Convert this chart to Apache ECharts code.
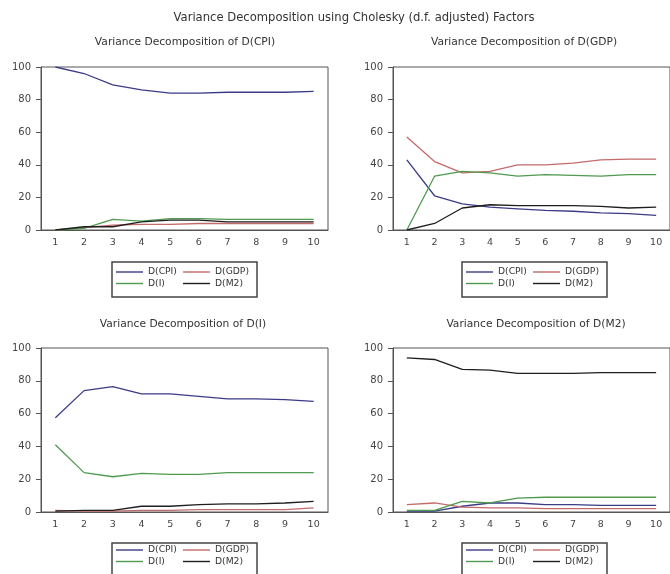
<!DOCTYPE html>
<html>
<head>
<meta charset="utf-8">
<script src="https://cdn.jsdelivr.net/npm/echarts@6/dist/echarts.min.js"></script>
<style>html,body{margin:0;padding:0;background:#fff}#c{width:670px;height:574px}</style>
</head>
<body>
<div id="c"></div>
<script>
// ---- data ----
const categories = ['1','2','3','4','5','6','7','8','9','10'];
const seriesNames = ['D(CPI)','D(GDP)','D(I)','D(M2)'];
const mainTitle = 'Variance Decomposition using Cholesky (d.f. adjusted) Factors';
const panelTitles = ['Variance Decomposition of D(CPI)','Variance Decomposition of D(GDP)','Variance Decomposition of D(I)','Variance Decomposition of D(M2)'];
const yTicks = [0,20,40,60,80,100];

// Panel 1: Variance Decomposition of D(CPI)
const cpi_CPI = [100, 96, 89, 86, 84, 84, 84.5, 84.5, 84.5, 85];
const cpi_GDP = [0, 1.5, 3, 3.5, 3.5, 4, 4, 4, 4, 4];
const cpi_I   = [0, 1, 6.5, 5.5, 7, 7, 6.5, 6.5, 6.5, 6.5];
const cpi_M2  = [0, 2, 2, 5, 6, 6, 5, 5, 5, 5];
// Panel 2: Variance Decomposition of D(GDP)
const gdp_CPI = [43, 21, 16, 14, 13, 12, 11.5, 10.5, 10, 9];
const gdp_GDP = [57, 42, 35, 36, 40, 40, 41, 43, 43.5, 43.5];
const gdp_I   = [0, 33, 36, 35, 33, 34, 33.5, 33, 34, 34];
const gdp_M2  = [0, 4, 13.5, 15.5, 15, 15, 15, 14.5, 13.5, 14];
// Panel 3: Variance Decomposition of D(I)
const i_CPI = [57.5, 74, 76.5, 72, 72, 70.5, 69, 69, 68.5, 67.5];
const i_GDP = [1, 0.5, 0.5, 1, 1, 1.5, 1.5, 1.5, 1.5, 2.5];
const i_I   = [41, 24, 21.5, 23.5, 23, 23, 24, 24, 24, 24];
const i_M2  = [0.5, 1, 1, 3.5, 3.5, 4.5, 5, 5, 5.5, 6.5];
// Panel 4: Variance Decomposition of D(M2)
const m2_CPI = [0.5, 0.5, 3.5, 5.5, 5.5, 4.5, 4.5, 4, 4, 4];
const m2_GDP = [4.5, 5.5, 3, 2.5, 2.5, 2, 2, 2, 2, 2];
const m2_I   = [1, 1, 6.5, 5.5, 8.5, 9, 9, 9, 9, 9];
const m2_M2  = [94, 93, 87, 86.5, 84.5, 84.5, 84.5, 85, 85, 85];

const panelData = [
  [cpi_CPI, cpi_GDP, cpi_I, cpi_M2],
  [gdp_CPI, gdp_GDP, gdp_I, gdp_M2],
  [i_CPI, i_GDP, i_I, i_M2],
  [m2_CPI, m2_GDP, m2_I, m2_M2]
];

// ---- styles / layout ----
const colors = ['#3b3b86', '#c46a6a', '#4f9a4f', '#1e1e1e'];
const grids = [
  {left: 41, top: 67, width: 287, height: 163},
  {left: 393, top: 67, width: 287, height: 163},
  {left: 41, top: 348, width: 287, height: 164},
  {left: 393, top: 348, width: 287, height: 164}
];
const titlePos = [[185, 37], [524, 37], [183, 319], [536, 319]];
const legendPos = [
  {box: [112, 262, 145, 35], col1: 116, col2: 183, top: 267},
  {box: [462, 262, 145, 35], col1: 466, col2: 533, top: 267},
  {box: [112, 543, 145, 40], col1: 116, col2: 183, top: 545},
  {box: [462, 543, 145, 40], col1: 466, col2: 533, top: 545}
];
const font = 'DejaVu Sans';

const option = {
  animation: false,
  backgroundColor: '#ffffff',
  color: colors,
  title: [{
    text: mainTitle, left: 354, top: 12, textAlign: 'center', padding: 0,
    textStyle: {fontFamily: font, fontSize: 11.6, fontWeight: 'normal', color: '#333'}
  }].concat(panelTitles.map((t, i) => ({
    text: t, left: titlePos[i][0], top: titlePos[i][1], textAlign: 'center', padding: 0,
    textStyle: {fontFamily: font, fontSize: 10.7, fontWeight: 'normal', color: '#333'}
  }))),
  grid: grids.map(g => Object.assign({show: true, borderColor: '#555', borderWidth: 1, backgroundColor: 'transparent', containLabel: false}, g)),
  xAxis: grids.map((g, i) => ({
    type: 'category', gridIndex: i, data: categories, boundaryGap: true,
    axisLine: {lineStyle: {color: '#555', width: 1}},
    axisTick: {inside: true, length: 4, alignWithLabel: false, lineStyle: {color: '#555'}},
    axisLabel: {fontFamily: font, fontSize: 9.5, color: '#444', margin: 8},
    splitLine: {show: false}
  })),
  yAxis: grids.map((g, i) => ({
    type: 'value', gridIndex: i, min: 0, max: 100, interval: 20,
    axisLine: {show: true, lineStyle: {color: '#555', width: 1}},
    axisTick: {show: true, inside: false, length: 5, lineStyle: {color: '#555'}},
    axisLabel: {fontFamily: font, fontSize: 10, color: '#444', margin: 10,
      formatter: v => yTicks.indexOf(v) >= 0 ? String(v) : ''},
    splitLine: {show: false}
  })),
  legend: [],
  graphic: [],
  series: []
};

panelData.forEach((arrs, p) => {
  arrs.forEach((d, k) => {
    option.series.push({
      type: 'line', name: seriesNames[k], xAxisIndex: p, yAxisIndex: p,
      data: d, symbol: 'none', showSymbol: false, smooth: false,
      lineStyle: {width: 1.3, color: colors[k]}, itemStyle: {color: colors[k]},
      z: 2 + k
    });
  });
  const L = legendPos[p];
  const common = {
    orient: 'vertical', top: L.top, padding: 0, itemGap: 1.5, itemWidth: 27, itemHeight: 1.4,
    icon: 'rect', selectedMode: false,
    textStyle: {fontFamily: font, fontSize: 9.2, color: '#333', lineHeight: 10}
  };
  option.legend.push(Object.assign({left: L.col1, data: [seriesNames[0], seriesNames[2]]}, common));
  option.legend.push(Object.assign({left: L.col2, data: [seriesNames[1], seriesNames[3]]}, common));
  option.graphic.push({
    type: 'rect', silent: true,
    shape: {x: L.box[0], y: L.box[1], width: L.box[2], height: L.box[3]},
    style: {fill: 'none', stroke: '#444', lineWidth: 1.5}
  });
});

const chart = echarts.init(document.getElementById('c'), null, {renderer: 'canvas'});
chart.setOption(option);
</script>
</body>
</html>
